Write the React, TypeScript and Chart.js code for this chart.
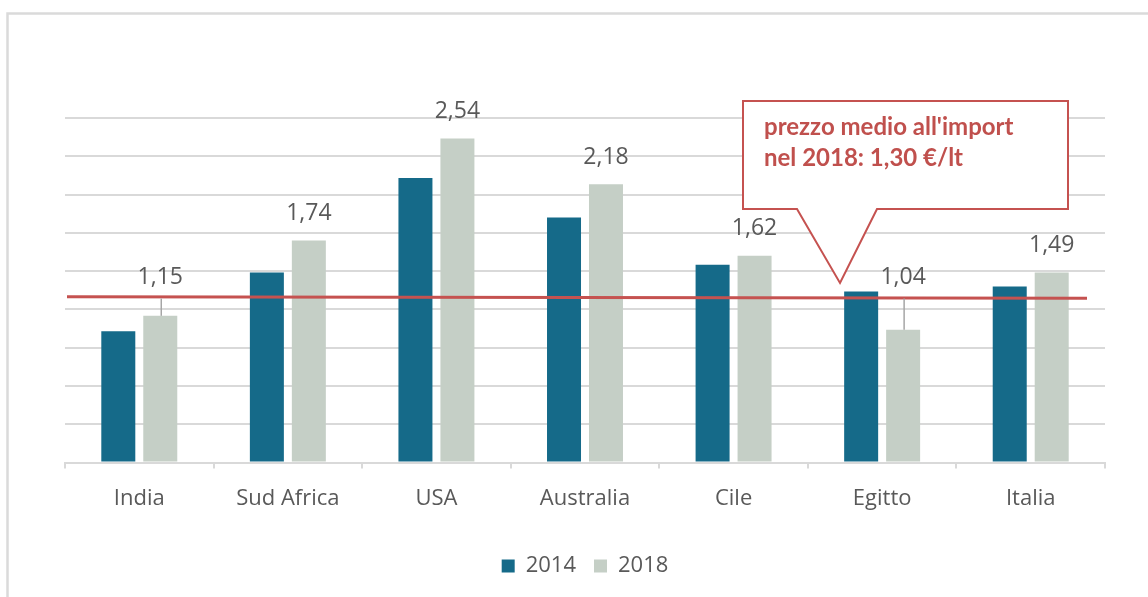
import { useEffect, useRef } from "react";
import { Chart, registerables } from "chart.js";

Chart.register(...registerables);

const categories = ["India", "Sud Africa", "USA", "Australia", "Cile", "Egitto", "Italia"];
const seriesLabels = ["2014", "2018"];
const values2014 = [1.03, 1.49, 2.23, 1.92, 1.55, 1.34, 1.38];
const values2018 = [1.15, 1.74, 2.54, 2.18, 1.62, 1.04, 1.49];
const averageImportPrice = 1.3;
const calloutLines = ["prezzo medio all'import", "nel 2018: 1,30 €/lt"];
const yMin = 0;
const yMax = 2.7;
const yStep = 0.3;
// labels that sit above a leader line instead of directly on the bar (value level of the label)
const leaderLabelLevel: Record<number, number> = { 0: 1.45, 5: 1.45 };

const COLOR_2014 = "#156A89";
const COLOR_2018 = "#C5CFC6";
const RED = "#C55250";
const GRID = "#D9D9D9";
const TEXT = "#595959";
const FONT = "'Open Sans', 'DejaVu Sans', sans-serif";

const fmt = (v: number) => v.toFixed(2).replace(".", ",");

const overlayPlugin = {
  id: "overlay",
  beforeDraw(chart: any) {
    const ctx = chart.ctx;
    ctx.save();
    ctx.strokeStyle = "#DADADA";
    ctx.lineWidth = 2.5;
    ctx.strokeRect(7.5, 13.5, 1400, 800);
    ctx.restore();
  },
  afterDatasetsDraw(chart: any) {
    const { ctx, chartArea, scales } = chart;
    const y = scales.y;
    ctx.save();

    // average price line
    const yl = y.getPixelForValue(averageImportPrice);
    ctx.strokeStyle = RED;
    ctx.lineWidth = 3;
    ctx.beginPath();
    ctx.moveTo(chartArea.left + 2, yl);
    ctx.lineTo(chartArea.right - 18, yl + 1.5);
    ctx.stroke();

    // data labels for 2018
    const meta = chart.getDatasetMeta(1);
    ctx.font = `23px ${FONT}`;
    ctx.fillStyle = TEXT;
    ctx.textAlign = "center";
    ctx.textBaseline = "middle";
    meta.data.forEach((bar: any, i: number) => {
      const text = fmt(values2018[i]);
      if (leaderLabelLevel[i] !== undefined) {
        const ly = y.getPixelForValue(leaderLabelLevel[i]);
        ctx.strokeStyle = "#A6A6A6";
        ctx.lineWidth = 1.5;
        ctx.beginPath();
        ctx.moveTo(bar.x + 1, ly + 21);
        ctx.lineTo(bar.x + 1, bar.y);
        ctx.stroke();
        ctx.fillText(text, bar.x, ly);
      } else {
        ctx.fillText(text, bar.x, bar.y - 27);
      }
    });

    // callout
    const L = 743, T = 101, R = 1068, B = 209;
    ctx.beginPath();
    ctx.moveTo(L, T);
    ctx.lineTo(R, T);
    ctx.lineTo(R, B);
    ctx.lineTo(877, B);
    ctx.lineTo(840, 283);
    ctx.lineTo(797, B);
    ctx.lineTo(L, B);
    ctx.closePath();
    ctx.fillStyle = "#FFFFFF";
    ctx.fill();
    ctx.strokeStyle = RED;
    ctx.lineWidth = 2;
    ctx.stroke();

    ctx.fillStyle = "#C0504D";
    ctx.font = `bold 24px Lato, ${FONT}`;
    ctx.textAlign = "left";
    ctx.textBaseline = "alphabetic";
    ctx.fillText(calloutLines[0], 764, 135);
    ctx.fillText(calloutLines[1], 764, 166);

    ctx.restore();
  },
};

export default function App() {
  const ref = useRef<HTMLCanvasElement>(null);

  useEffect(() => {
    if (!ref.current) return;
    const chart = new Chart(ref.current, {
      type: "bar",
      data: {
        labels: categories,
        datasets: [
          {
            label: seriesLabels[0],
            data: values2014,
            backgroundColor: COLOR_2014,
            categoryPercentage: 0.565,
            barPercentage: 0.81,
          },
          {
            label: seriesLabels[1],
            data: values2018,
            backgroundColor: COLOR_2018,
            categoryPercentage: 0.565,
            barPercentage: 0.81,
          },
        ],
      },
      options: {
        responsive: false,
        animation: false,
        events: [],
        layout: { padding: { left: 65, right: 43, top: 118, bottom: 10 } },
        plugins: {
          tooltip: { enabled: false },
          legend: {
            position: "bottom",
            labels: {
              boxWidth: 13,
              boxHeight: 13,
              padding: 18,
              color: TEXT,
              font: { family: FONT, size: 22 },
            },
          },
        },
        scales: {
          x: {
            grid: {
              drawOnChartArea: false,
              drawTicks: true,
              tickLength: 6,
              color: GRID,
              lineWidth: 2,
            },
            border: { display: true, color: GRID, width: 2 },
            ticks: {
              color: TEXT,
              padding: 17,
              font: { family: FONT, size: 22 },
            },
            afterFit: (scale: any) => {
              scale.height += 8;
            },
          },
          y: {
            min: yMin,
            max: yMax,
            ticks: { display: false, stepSize: yStep },
            grid: { color: GRID, lineWidth: 2, drawTicks: false },
            border: { display: false },
          },
        },
      },
      plugins: [overlayPlugin],
    });
    return () => chart.destroy();
  }, []);

  return (
    <canvas
      ref={ref}
      width={1148}
      height={597}
      style={{ position: "fixed", left: 0, top: 0, display: "block" }}
    />
  );
}
